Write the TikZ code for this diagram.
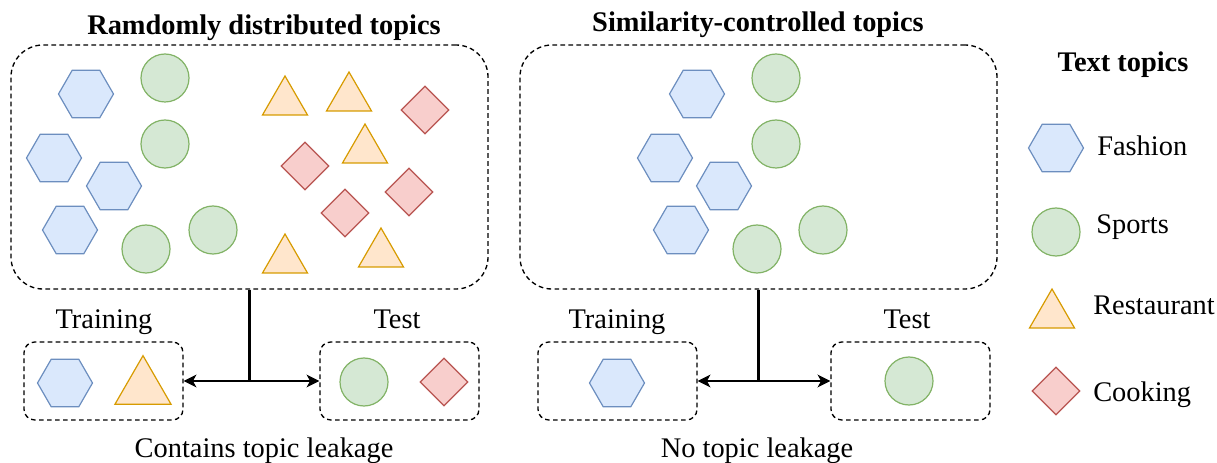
\documentclass[tikz,border=0pt]{standalone}
\usepackage{fontspec}
\setmainfont{Liberation Serif}
\usetikzlibrary{shapes.geometric,arrows.meta}

\definecolor{fashionfill}{HTML}{DAE8FC}
\definecolor{fashionline}{HTML}{6C8EBF}
\definecolor{sportsfill}{HTML}{D5E8D4}
\definecolor{sportsline}{HTML}{82B366}
\definecolor{restfill}{HTML}{FFE6CC}
\definecolor{restline}{HTML}{D79B00}
\definecolor{cookfill}{HTML}{F8CECC}
\definecolor{cookline}{HTML}{B85450}

\begin{document}
\begin{tikzpicture}[x=0.75pt,y=-0.75pt,
			every node/.style = {inner sep=0pt, font=\fontsize{21.3}{25}\selectfont},
			fashion/.style = {regular polygon, regular polygon sides=6, minimum size=41.25pt,
				draw=fashionline, fill=fashionfill, line width=0.9pt},
			sports/.style = {circle, minimum size=36pt, draw=sportsline, fill=sportsfill, line width=0.9pt},
			restaurant/.style = {regular polygon, regular polygon sides=3, minimum size=39pt,
				draw=restline, fill=restfill, line width=0.9pt},
			cooking/.style = {diamond, minimum size=36pt, draw=cookline, fill=cookfill, line width=0.9pt},
			bigbox/.style = {draw, line width=1pt, dash pattern=on 3.5pt off 2.5pt, rounded corners=24pt,
				minimum width=357.75pt, minimum height=183pt},
			setbox/.style = {draw, line width=1pt, dash pattern=on 3.5pt off 2.5pt, rounded corners=8pt,
				minimum width=119.25pt, minimum height=58.5pt},
			txt/.style = {anchor=base},
			legendtxt/.style = {anchor=base west},
			link/.style = {line width=1.6pt, -{Stealth[length=9.5pt, width=9.5pt, inset=2.5pt]}}]
			
			\useasboundingbox (0,0) rectangle (1217,463);
			
			\node[txt] (title1) at (264,35) {\bfseries Ramdomly distributed topics};
			\node[txt] (title2) at (758,32) {\bfseries Similarity-controlled topics};
			\node[txt] (title3) at (1123,72) {\bfseries Text topics};
			
			\node[bigbox] (rand) at (249.5,167) {};
			\node[fashion] (f1) at (86,94) {};
			\node[fashion] (f2) at (54,158) {};
			\node[fashion] (f3) at (114,186) {};
			\node[fashion] (f4) at (70,230) {};
			\node[sports] (s1) at (165,78) {};
			\node[sports] (s2) at (165,144) {};
			\node[sports] (s3) at (146,249) {};
			\node[sports] (s4) at (213,230) {};
			\node[restaurant] (r1) at (285,102) {};
			\node[restaurant] (r2) at (349,98) {};
			\node[restaurant] (r3) at (365,150) {};
			\node[restaurant] (r4) at (285,260) {};
			\node[restaurant] (r5) at (381,254) {};
			\node[cooking] (c1) at (425,110) {};
			\node[cooking] (c2) at (305,166) {};
			\node[cooking] (c3) at (409,192) {};
			\node[cooking] (c4) at (345,213) {};
			
			\node[bigbox] (sim) at (758.5,167) {};
			\node[fashion] (f5) at (697,94) {};
			\node[fashion] (f6) at (665,158) {};
			\node[fashion] (f7) at (724,186) {};
			\node[fashion] (f8) at (681,230) {};
			\node[sports] (s5) at (776,78) {};
			\node[sports] (s6) at (776,144) {};
			\node[sports] (s7) at (757,249) {};
			\node[sports] (s8) at (823,230) {};
			
			\node[txt] (trainlbl1) at (104,329) {Training};
			\node[txt] (testlbl1) at (397,329) {Test};
			\node[setbox] (train1) at (103.5,381) {};
			\node[setbox] (test1) at (399.5,381) {};
			\node[fashion] (f9) at (65,383) {};
			\node[restaurant, minimum size=48.5pt] (r6) at (143,388) {};
			\node[sports] (s9) at (364,382) {};
			\node[cooking] (c5) at (444,382) {};
			\node[txt] (leak1) at (264,457) {Contains topic leakage};
			
			\node[txt] (trainlbl2) at (617,328) {Training};
			\node[txt] (testlbl2) at (907,328) {Test};
			\node[setbox] (train2) at (617.5,381) {};
			\node[setbox] (test2) at (910.5,381) {};
			\node[fashion] (f10) at (617,383) {};
			\node[sports] (s10) at (909,381) {};
			\node[txt] (leak2) at (757,457) {No topic leakage};
			
			\draw[link] (rand.south) |- (train1.east);
			\draw[link] (rand.south) |- (test1.west);
			\draw[link] (sim.south) |- (train2.east);
			\draw[link] (sim.south) |- (test2.west);
			
			\node[fashion] (keyf) at (1056,148) {};
			\node[legendtxt] (keyftxt) at (1097,156) {Fashion};
			\node[sports] (keys) at (1056,232) {};
			\node[legendtxt] (keystxt) at (1096,234) {Sports};
			\node[restaurant] (keyr) at (1052,315) {};
			\node[legendtxt] (keyrtxt) at (1093,315) {Restaurant};
			\node[cooking] (keyc) at (1056,391) {};
			\node[legendtxt] (keyctxt) at (1093,401) {Cooking};
			\end{tikzpicture}
\end{document}
